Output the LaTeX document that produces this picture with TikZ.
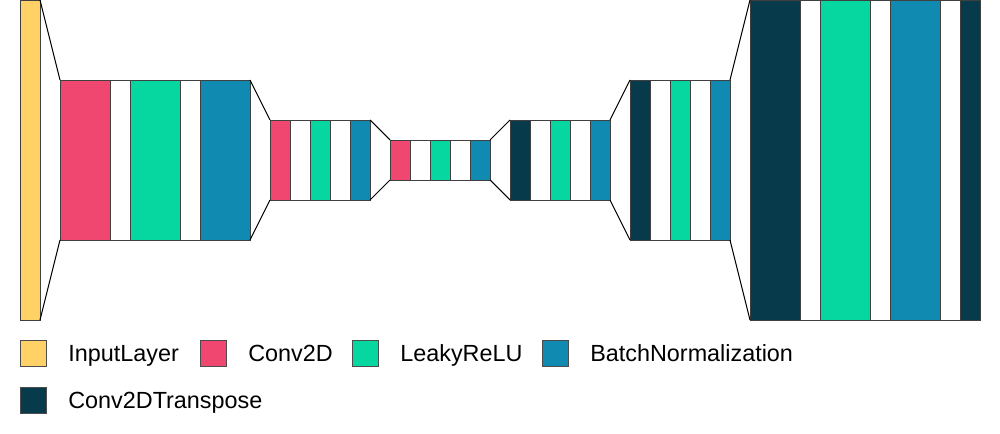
\documentclass[tikz,border=0pt]{standalone}
\usepackage{fontspec}
\setmainfont{Liberation Sans}
\usetikzlibrary{positioning}

\definecolor{inyellow}{HTML}{FFD166}
\definecolor{convred}{HTML}{EF476F}
\definecolor{relugreen}{HTML}{06D6A0}
\definecolor{bnblue}{HTML}{118AB2}
\definecolor{tconvdark}{HTML}{073B4C}

\tikzset{
	layer/.style={draw=black!75, line width=0.5pt, inner sep=0pt, outer sep=0pt, anchor=north west},
	funnel/.style={draw=black, line width=0.6pt},
	keybox/.style={draw=black!70, line width=0.5pt, inner sep=0pt, outer sep=0pt, minimum size=26*0.2mm, anchor=north west},
	keytext/.style={inner sep=0pt, anchor=base west, font=\fontsize{13.3}{16}\selectfont}
}

% name, x, y, width, height, colour (pixel units)
\newcommand{\lyr}[6]{\node[layer, fill=#6, minimum width=#4*0.2mm, minimum height=#5*0.2mm] (#1) at (#2,#3) {};}

\begin{document}
\begin{tikzpicture}[x=0.2mm, y=-0.2mm]
		\useasboundingbox (0,0) rectangle (1000,434);
		\lyr{in}{20}{0}{20}{320}{inyellow}
		% encoder
		\foreach \n/\x/\w/\c in {a1/60/50/convred, a2/110/20/white, a3/130/50/relugreen, a4/180/20/white, a5/200/50/bnblue}
			{\lyr{\n}{\x}{80}{\w}{160}{\c}}
		\foreach \n/\x/\c in {b1/270/convred, b2/290/white, b3/310/relugreen, b4/330/white, b5/350/bnblue}
			{\lyr{\n}{\x}{120}{20}{80}{\c}}
		\foreach \n/\x/\c in {c1/390/convred, c2/410/white, c3/430/relugreen, c4/450/white, c5/470/bnblue}
			{\lyr{\n}{\x}{140}{20}{40}{\c}}
		% decoder
		\foreach \n/\x/\c in {d1/510/tconvdark, d2/530/white, d3/550/relugreen, d4/570/white, d5/590/bnblue}
			{\lyr{\n}{\x}{120}{20}{80}{\c}}
		\foreach \n/\x/\c in {e1/630/tconvdark, e2/650/white, e3/670/relugreen, e4/690/white, e5/710/bnblue}
			{\lyr{\n}{\x}{80}{20}{160}{\c}}
		\foreach \n/\x/\w/\c in {f1/750/50/tconvdark, f2/800/20/white, f3/820/50/relugreen, f4/870/20/white, f5/890/50/bnblue, f6/940/20/white, f7/960/20/tconvdark}
			{\lyr{\n}{\x}{0}{\w}{320}{\c}}
		% funnels between blocks
		\foreach \p/\q in {in/a1, a5/b1, b5/c1, c5/d1, d5/e1, e5/f1} {
			\draw[funnel] (\p.north east) -- (\q.north west);
			\draw[funnel] (\p.south east) -- (\q.south west);
		}
		% legend
		\foreach \n/\x/\y/\c/\t in {in/20/340/inyellow/InputLayer, cv/200/340/convred/Conv2D, lr/352/340/relugreen/LeakyReLU, bn/542/340/bnblue/BatchNormalization, tc/20/387/tconvdark/Conv2DTranspose} {
			\node[keybox, fill=\c] (key-\n) at (\x,\y) {};
			\node[keytext] (lbl-\n) at (\x+48,\y+21.5) {\t};
		}
	\end{tikzpicture}
\end{document}
